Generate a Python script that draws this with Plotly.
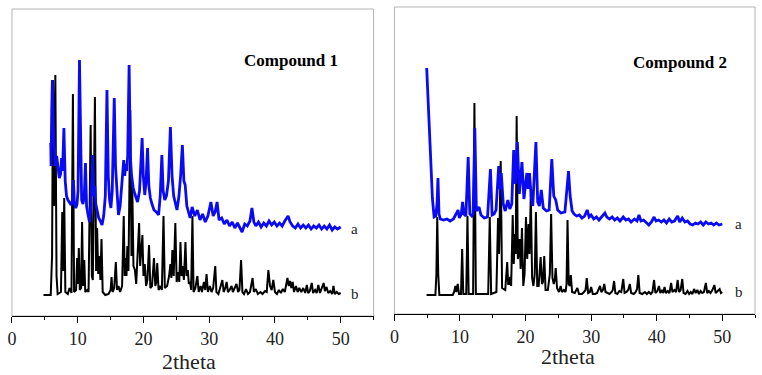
import plotly.graph_objects as go

# ---------------- data (2theta, intensity a.u.) ----------------
c1_sim = [[4.8,21],[5.9,21],[6.1,60],[6.24,236],[6.4,110],[6.6,241],[6.78,40],[6.95,22],
[7.45,24],[7.65,104],[7.8,45],[7.95,118],[8.12,24],[8.5,22],[8.75,28],[9.05,23],
[9.27,222],[9.45,24],[9.75,26],[9.92,58],[10.04,32],[10.17,68],[10.32,26],[10.52,28],
[10.67,94],[10.82,30],[11.0,56],[11.15,24],[11.45,26],[11.65,24],[11.97,191],[12.15,40],[12.3,36],
[12.62,219],[12.8,45],[12.95,88],[13.12,42],[13.3,60],[13.45,36],[13.62,77],[13.8,24],
[14.2,21],[14.7,22],[15.0,26],[15.15,39],[15.3,24],[15.55,28],[15.8,54],[15.98,26],[16.2,30],[16.45,24],[16.75,30],
[17.0,100],[17.15,40],[17.3,58],[17.42,40],[17.55,70],[17.72,45],[18.0,206],[18.18,60],[18.3,130],[18.48,50],[18.7,46],[18.9,32],
[19.1,60],[19.34,93],[19.5,50],[19.65,62],[19.84,81],[20.0,40],[20.2,52],[20.4,30],[20.6,36],[20.85,71],[21.05,28],[21.3,30],
[21.6,58],[21.8,30],[21.95,34],[22.1,53],[22.3,26],[22.6,30],[22.8,26],
[23.05,100],[23.25,28],[23.6,30],[23.9,40],[24.1,52],[24.25,38],[24.4,66],[24.6,40],[24.85,93],[25.05,34],[25.3,44],[25.45,34],
[25.63,74],[25.8,40],[26.0,50],[26.15,36],[26.39,74],[26.55,40],[26.75,46],[26.9,32],[27.1,34],[27.25,26],[27.45,100],[27.62,24],
[27.9,28],[28.2,40],[28.4,24],[28.7,30],[28.9,24],[29.2,34],[29.4,26],[29.6,42],[29.8,24],[30.1,30],[30.35,24],[30.6,28],
[30.92,50],[31.1,24],[31.4,22],[31.7,30],[32.0,36],[32.2,24],[32.45,28],[32.65,34],[32.85,24],[33.1,26],[33.4,30],[33.6,24],
[33.9,28],[34.15,32],[34.4,24],[34.6,26],[34.85,56],[35.05,24],[35.3,22],[35.6,27],[35.9,22],[36.2,24],[36.6,38],[36.8,24],
[37.1,27],[37.4,22],[37.8,24],[38.1,22],[38.5,25],[38.75,24],[39.0,46],[39.25,30],[39.5,26],[39.75,36],[40.0,24],[40.3,22],
[40.6,26],[40.9,23],[41.2,27],[41.5,24],[41.9,38],[42.1,30],[42.3,35],[42.5,28],[42.7,34],[42.9,24],[43.2,30],[43.45,24],
[43.7,28],[44.0,24],[44.3,28],[44.6,23],[44.85,31],[45.05,23],[45.3,25],[45.6,33],[45.8,23],[46.1,26],[46.35,23],[46.6,31],
[46.85,23],[47.1,27],[47.4,33],[47.6,25],[47.85,29],[48.1,23],[48.4,25],[48.7,22],[48.9,30],[49.1,22],[49.4,24],[49.7,22],[50.0,23]]

c1_exp = [[5.9,173],[5.95,150],[6.05,205],[6.15,236],[6.3,190],[6.45,160],[6.6,150],[6.8,160],[7.0,145],[7.2,138],[7.4,142],
[7.55,158],[7.7,145],[7.9,188],[8.1,135],[8.3,120],[8.5,116],[8.8,112],[9.0,111],[9.2,116],[9.35,136],[9.5,112],[9.7,108],
[9.9,112],[10.05,125],[10.27,256],[10.45,140],[10.6,116],[10.8,112],[11.0,120],[11.18,153],[11.35,110],[11.55,102],[11.8,94],
[12.0,110],[12.29,161],[12.45,120],[12.6,130],[12.75,112],[12.95,104],[13.2,98],[13.45,95],[13.7,91],[13.95,100],[14.2,120],
[14.45,226],[14.65,140],[14.85,116],[15.05,108],[15.25,125],[15.56,218],[15.75,150],[15.95,130],[16.2,101],[16.45,110],
[16.65,125],[16.85,148],[17.0,156],[17.15,140],[17.3,152],[17.45,145],[17.6,160],[17.82,251],[18.0,160],[18.2,140],[18.45,128],
[18.7,122],[18.9,118],[19.1,114],[19.4,125],[19.6,150],[19.8,178],[19.98,140],[20.2,121],[20.4,135],[20.62,168],[20.82,130],
[21.05,118],[21.3,112],[21.6,106],[21.95,104],[22.3,101],[22.55,120],[22.8,161],[23.0,125],[23.25,116],[23.5,120],[23.8,135],
[24.1,189],[24.35,140],[24.6,120],[24.85,112],[25.1,106],[25.4,120],[25.65,140],[25.92,171],[26.15,135],[26.35,131],[26.6,110],
[26.85,104],[27.1,98],[27.4,109],[27.8,100],[28.2,106],[28.6,96],[29.0,102],[29.4,94],[29.8,100],[30.26,114],[30.6,100],
[30.9,104],[31.2,114],[31.5,96],[31.9,98],[32.3,92],[32.7,96],[33.1,90],[33.5,94],[33.9,88],[34.3,93],[34.7,87],[35.0,84],
[35.4,92],[35.8,90],[36.2,95],[36.5,108],[36.8,94],[37.1,90],[37.5,94],[37.9,89],[38.3,93],[38.7,90],[39.1,95],[39.5,91],
[39.9,94],[40.3,90],[40.7,93],[41.1,90],[41.5,95],[42.0,100],[42.3,94],[42.7,90],[43.1,88],[43.5,92],[43.9,88],[44.3,91],
[44.7,88],[45.1,91],[45.5,87],[45.9,90],[46.3,88],[46.7,91],[47.1,87],[47.5,90],[47.9,87],[48.3,91],[48.7,86],[49.1,89],
[49.5,87],[50.0,89]]

c2_sim = [[4.9,19],[6.25,19],[6.4,40],[6.53,97],[6.68,40],[6.85,19],[8.9,19],[9.1,22],[9.3,28],[9.45,22],[9.65,30],[9.85,20],
[10.15,20],[10.33,65],[10.5,20],[10.95,20],[11.14,98],[11.32,20],[12.0,20],[12.2,211],[12.42,20],[14.3,20],[14.54,97],[14.75,20],
[15.55,22],[15.8,96],[15.95,60],[16.21,153],[16.42,26],[16.9,24],[17.2,52],[17.35,30],[17.5,30],[17.65,37],[17.8,28],[18.04,99],
[18.2,50],[18.38,80],[18.5,60],[18.64,198],[18.82,55],[18.95,60],[19.1,75],[19.25,45],[19.45,86],[19.65,28],[19.85,40],[20.06,97],
[20.25,55],[20.45,90],[20.6,60],[20.8,120],[21.0,36],[21.2,28],[21.4,40],[21.58,102],[21.78,28],[22.0,28],[22.3,57],[22.5,30],
[22.65,32],[22.85,58],[23.05,24],[23.4,24],[23.7,40],[23.9,100],[24.1,36],[24.3,30],[24.45,34],[24.6,46],[24.8,26],[25.1,22],
[25.35,28],[25.55,22],[25.85,24],[26.1,22],[26.25,30],[26.4,94],[26.58,30],[26.75,28],[26.9,39],[27.1,22],[27.5,21],[27.9,26],
[28.15,20],[28.6,20],[28.9,22],[29.15,24],[29.33,36],[29.55,21],[29.8,22],[30.0,27],[30.25,20],[30.6,20],[30.9,21],[31.1,24],
[31.36,28],[31.55,22],[31.8,24],[32.0,30],[32.2,22],[32.5,21],[32.8,20],[33.1,22],[33.3,24],[33.5,33],[33.7,21],[34.0,20],
[34.3,23],[34.6,22],[34.9,35],[35.1,21],[35.4,22],[35.65,24],[35.9,30],[36.1,21],[36.5,20],[36.8,22],[37.0,25],[37.2,39],
[37.4,21],[37.8,20],[38.2,22],[38.5,20],[38.8,22],[39.1,20],[39.35,22],[39.6,34],[39.8,21],[40.1,23],[40.35,28],[40.55,21],
[40.8,24],[41.0,21],[41.2,27],[41.4,21],[41.7,23],[41.95,21],[42.2,31],[42.4,22],[42.7,24],[42.95,22],[43.2,34],[43.4,22],
[43.65,24],[43.9,35],[44.1,21],[44.4,20],[44.7,23],[44.95,20],[45.2,22],[45.45,20],[45.7,25],[45.95,21],[46.2,24],[46.45,20],
[46.7,23],[46.95,21],[47.2,22],[47.5,31],[47.7,21],[47.95,23],[48.2,21],[48.5,24],[48.8,29],[49.0,21],[49.3,23],[49.6,25],
[49.8,21],[50.0,22]]

c2_exp = [[4.92,246],[5.2,205],[5.5,160],[5.8,115],[6.05,97],[6.3,98],[6.5,110],[6.64,136],[6.8,100],[7.0,95],[7.5,94],[8.0,95],
[8.5,93],[9.0,95],[9.4,100],[9.7,104],[9.9,96],[10.2,100],[10.4,112],[10.6,100],[10.9,98],[11.25,157],[11.5,100],[11.8,98],
[12.0,100],[12.26,186],[12.5,103],[12.9,107],[13.2,99],[13.7,96],[14.2,97],[14.64,145],[14.9,99],[15.2,100],[15.5,104],
[15.9,148],[16.1,125],[16.3,141],[16.6,110],[16.9,103],[17.3,114],[17.6,105],[17.9,110],[18.19,164],[18.45,130],[18.75,172],
[19.05,120],[19.45,152],[19.75,115],[20.2,141],[20.4,125],[20.6,141],[20.85,118],[21.1,108],[21.58,172],[21.85,112],[22.1,108],
[22.4,124],[22.7,106],[23.2,103],[23.6,104],[24.0,155],[24.3,118],[24.6,114],[24.9,104],[25.4,101],[26.0,102],[26.55,143],
[26.8,118],[27.1,103],[27.4,100],[27.8,98],[28.2,99],[28.6,96],[29.0,98],[29.4,104],[29.7,97],[30.0,99],[30.4,95],[30.8,97],
[31.2,94],[31.6,97],[32.1,101],[32.4,97],[32.8,95],[33.2,97],[33.6,94],[34.0,96],[34.4,93],[34.9,97],[35.3,94],[35.7,95],
[36.1,92],[36.6,95],[37.0,93],[37.3,99],[37.6,93],[38.0,94],[38.4,91],[38.8,89],[39.2,92],[39.6,97],[39.9,93],[40.3,94],
[40.7,92],[41.1,94],[41.5,91],[41.9,95],[42.3,92],[42.7,93],[43.2,98],[43.5,92],[43.9,96],[44.3,92],[44.7,93],[45.1,90],
[45.5,89],[45.9,91],[46.3,90],[46.7,92],[47.1,89],[47.5,92],[47.9,90],[48.3,91],[48.7,89],[49.1,91],[49.5,89],[50.0,90]]

x_ticks = [0, 10, 20, 30, 40, 50]
panel_titles = ["Compound 1", "Compound 2"]
curve_labels = ["a", "b"]
axis_title = "2theta"

# ---------------- figure ----------------
W, H = 762, 375
BLUE = "#0a0af5"
SERIF = "Liberation Serif, Times New Roman, serif"

fig = go.Figure()

def add(data, color, width, xa, ya):
    fig.add_trace(go.Scatter(x=[p[0] for p in data], y=[p[1] for p in data], mode="lines",
                             line=dict(color=color, width=width), xaxis=xa, yaxis=ya,
                             showlegend=False, hoverinfo="skip"))

add(c1_sim, "black", 2, "x", "y")
add(c1_exp, BLUE, 2.8, "x", "y")
add(c2_sim, "black", 2, "x2", "y2")
add(c2_exp, BLUE, 2.8, "x2", "y2")

xcommon = dict(range=[0, 55], tickmode="array", tickvals=x_ticks, ticktext=[str(t) for t in x_ticks],
               ticks="outside", ticklen=6, tickwidth=1, tickcolor="black",
               showline=True, linecolor="black", linewidth=1, showgrid=False, zeroline=False,
               tickfont=dict(family=SERIF, size=18, color="#222"),
               minor=dict(tickvals=[5, 15, 25, 35, 45, 55], ticks="outside", ticklen=3, tickcolor="black"))
ycommon = dict(range=[0, 307], showticklabels=False, showline=False, showgrid=False, zeroline=False, ticks="")

fig.update_layout(
    width=W, height=H, margin=dict(l=0, r=0, t=0, b=0),
    paper_bgcolor="white", plot_bgcolor="white",
    font=dict(family=SERIF, size=18, color="#222"),
    xaxis=dict(domain=[7/W, 371/W], anchor="y", **xcommon),
    yaxis=dict(domain=[59/H, 366/H], anchor="x", **ycommon),
    xaxis2=dict(domain=[392/W, 755/W], anchor="y2", **xcommon),
    yaxis2=dict(domain=[61/H, 368/H], anchor="x2", **ycommon),
)

for xr, yr in [("x", "y"), ("x2", "y2")]:
    fig.add_shape(type="rect", xref=f"{xr} domain", yref=f"{yr} domain", x0=0, x1=1, y0=0, y1=1,
                  line=dict(color="#b4b4b4", width=1), layer="below")

# panel titles
fig.add_annotation(x=42.4, y=256, xref="x", yref="y", text=f"<b>{panel_titles[0]}</b>", showarrow=False,
                   xanchor="center", yanchor="middle", font=dict(family=SERIF, size=17, color="black"))
fig.add_annotation(x=43.6, y=252, xref="x2", yref="y2", text=f"<b>{panel_titles[1]}</b>", showarrow=False,
                   xanchor="center", yanchor="middle", font=dict(family=SERIF, size=17, color="black"))
# curve labels
for xr, yr, xa, ya, yb in [("x", "y", 51.3, 87, 22), ("x2", "y2", 51.6, 90, 22)]:
    fig.add_annotation(x=xa, y=ya, xref=xr, yref=yr, text=curve_labels[0], showarrow=False,
                       xanchor="left", yanchor="middle", font=dict(family=SERIF, size=15, color="#222"))
    fig.add_annotation(x=xa, y=yb, xref=xr, yref=yr, text=curve_labels[1], showarrow=False,
                       xanchor="left", yanchor="middle", font=dict(family=SERIF, size=15, color="#222"))
# axis titles
fig.add_annotation(x=185/W, y=1 - 361/H, xref="paper", yref="paper", text=axis_title, showarrow=False,
                   xanchor="center", yanchor="middle", font=dict(family=SERIF, size=22, color="#222"))
fig.add_annotation(x=567/W, y=1 - 356/H, xref="paper", yref="paper", text=axis_title, showarrow=False,
                   xanchor="center", yanchor="middle", font=dict(family=SERIF, size=22, color="#222"))

fig.write_html("out.html")
